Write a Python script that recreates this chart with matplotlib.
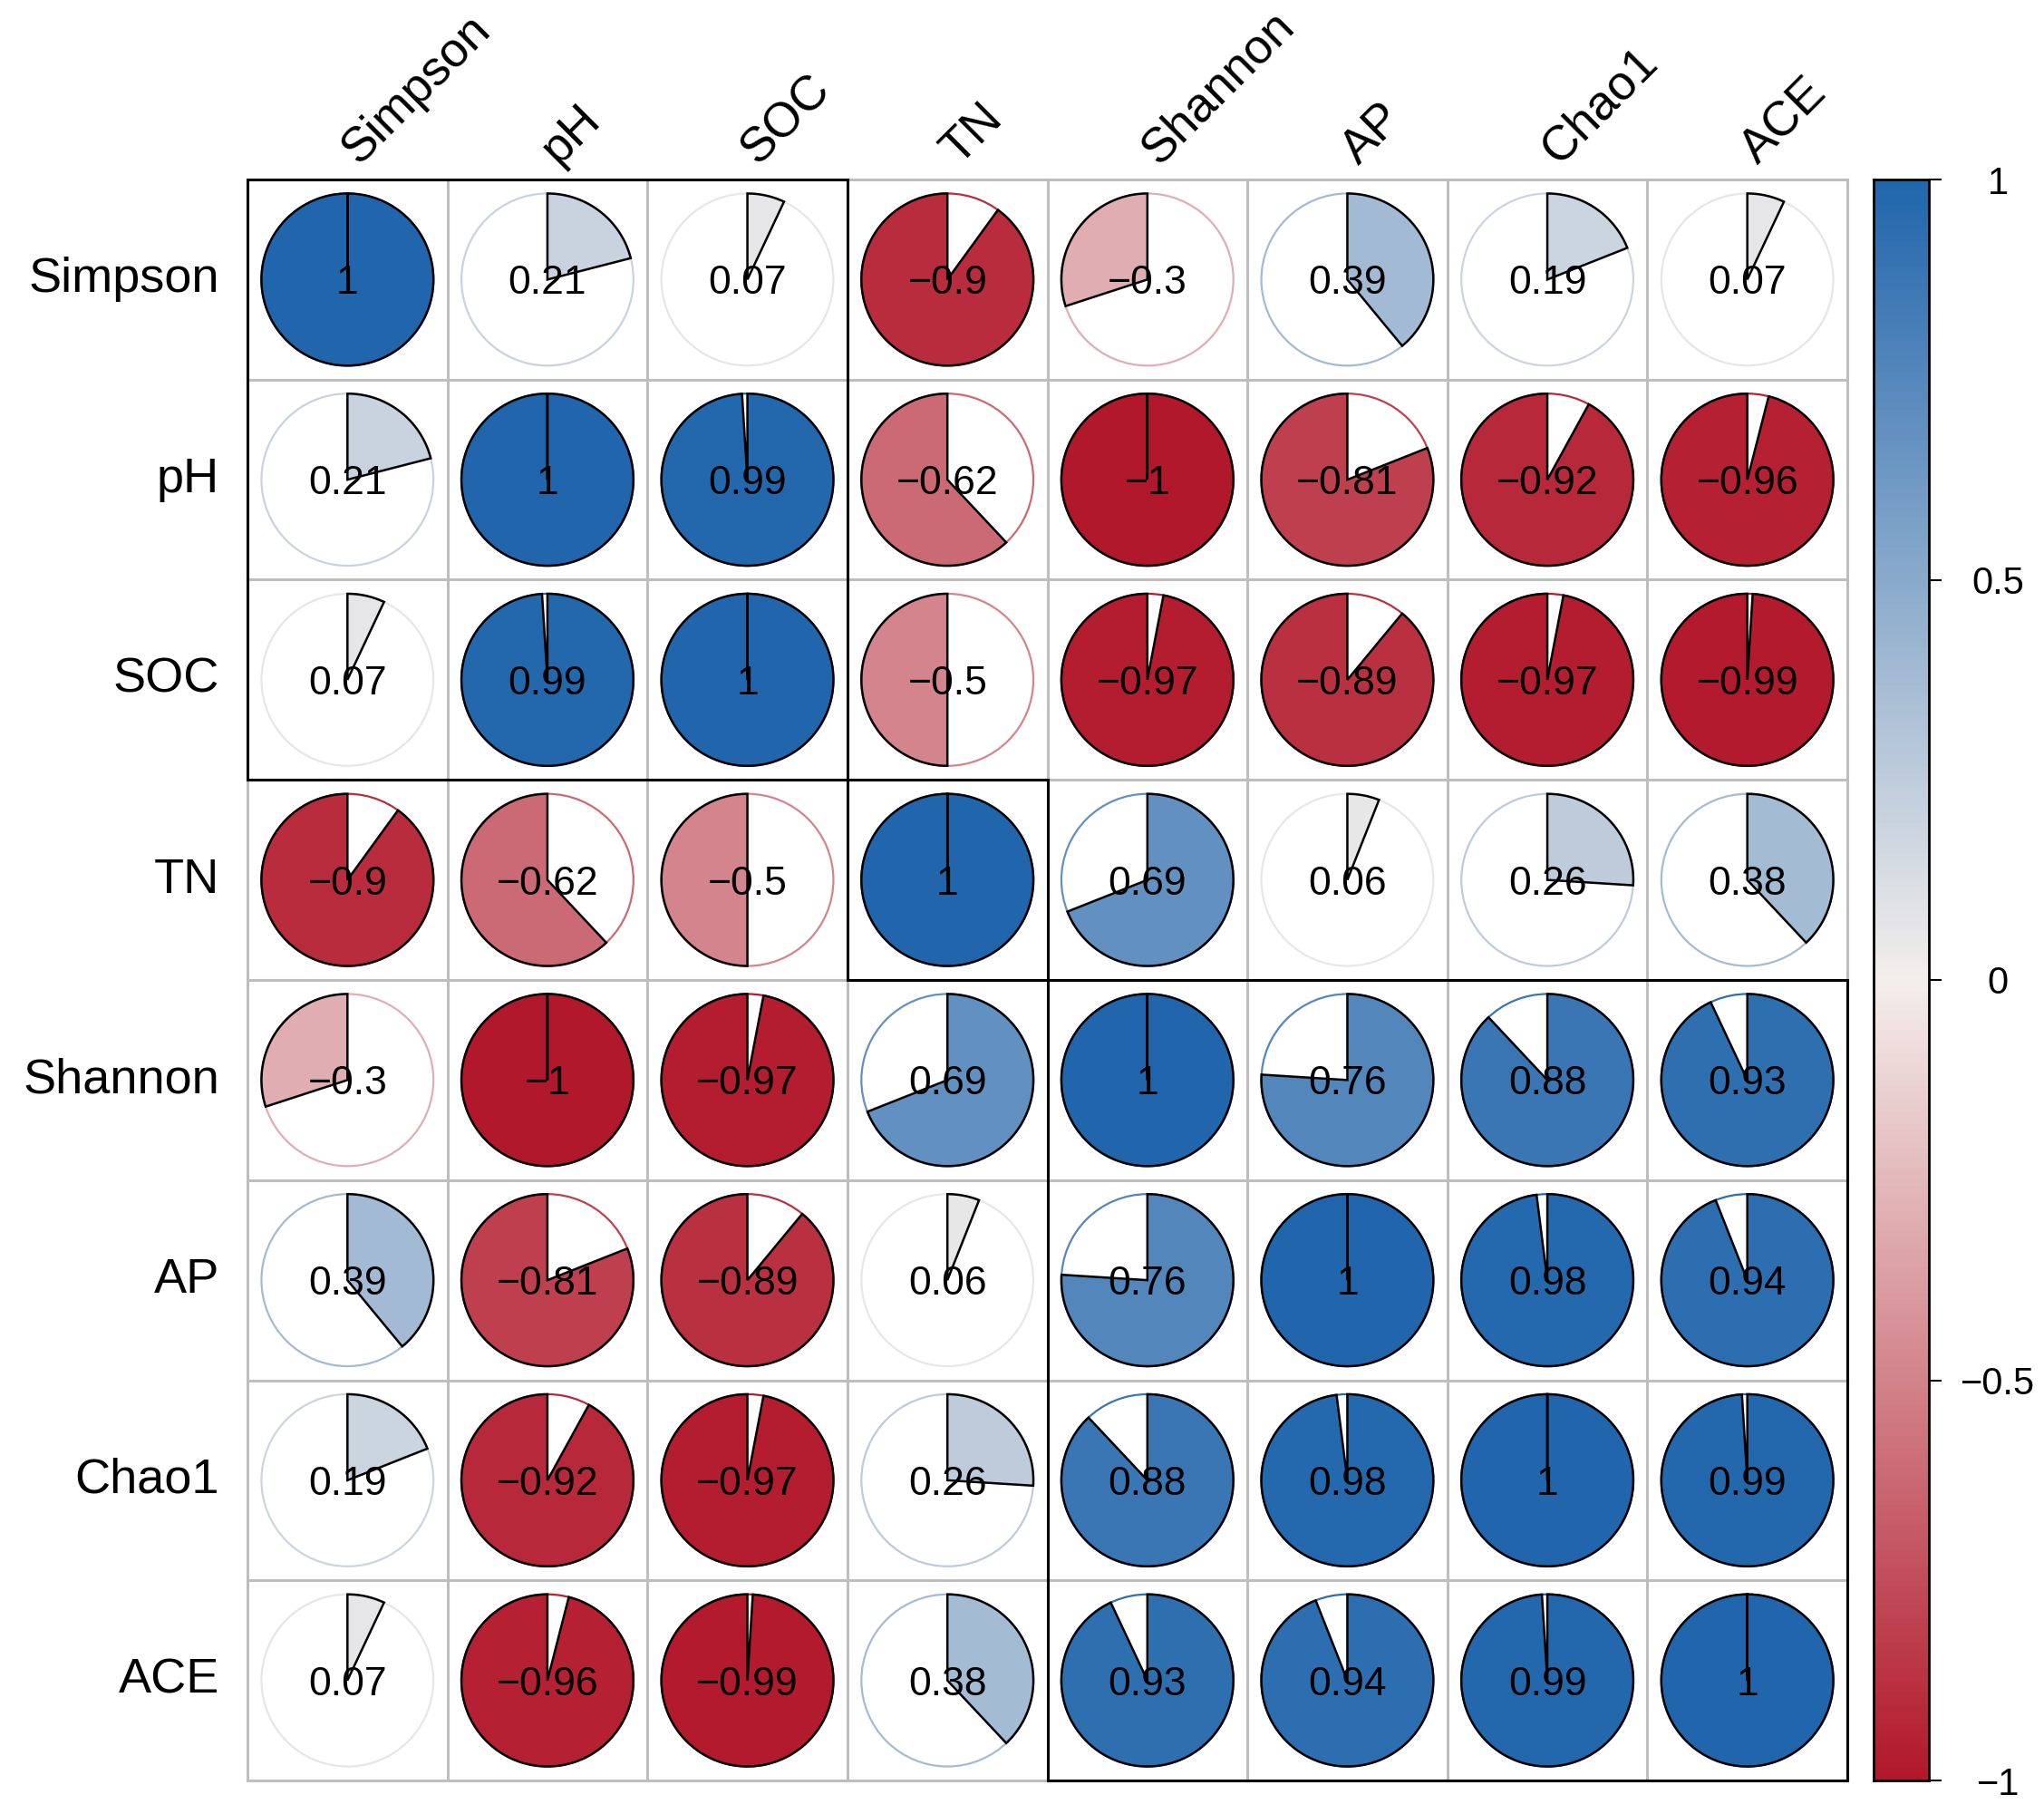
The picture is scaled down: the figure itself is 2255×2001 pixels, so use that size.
import numpy as np
import matplotlib
matplotlib.use("Agg")
import matplotlib.pyplot as plt
from matplotlib.colors import LinearSegmentedColormap
from matplotlib.patches import Circle, Polygon, Rectangle

plt.rcParams['font.family'] = ['Liberation Sans', 'DejaVu Sans']

variables = ["Simpson", "pH", "SOC", "TN", "Shannon", "AP", "Chao1", "ACE"]

row_simpson = [1, 0.21, 0.07, -0.9, -0.3, 0.39, 0.19, 0.07]
row_ph      = [0.21, 1, 0.99, -0.62, -1, -0.81, -0.92, -0.96]
row_soc     = [0.07, 0.99, 1, -0.5, -0.97, -0.89, -0.97, -0.99]
row_tn      = [-0.9, -0.62, -0.5, 1, 0.69, 0.06, 0.26, 0.38]
row_shannon = [-0.3, -1, -0.97, 0.69, 1, 0.76, 0.88, 0.93]
row_ap      = [0.39, -0.81, -0.89, 0.06, 0.76, 1, 0.98, 0.94]
row_chao1   = [0.19, -0.92, -0.97, 0.26, 0.88, 0.98, 1, 0.99]
row_ace     = [0.07, -0.96, -0.99, 0.38, 0.93, 0.94, 0.99, 1]

corr = np.array([row_simpson, row_ph, row_soc, row_tn,
                 row_shannon, row_ap, row_chao1, row_ace])

# hierarchical-cluster groups (start index, end index exclusive)
clusters = [(0, 3), (3, 4), (4, 8)]

cbar_ticks = [-1, -0.5, 0, 0.5, 1]
cbar_ticklabels = ["\u22121", "\u22120.5", "0", "0.5", "1"]

cmap = LinearSegmentedColormap.from_list(
    "rdbu", ["#B2182B", "#F4EFEC", "#2166AC"], N=256)

W, H = 2255, 2001
fig = plt.figure(figsize=(W / 100, H / 100), dpi=100)
fig.patch.set_facecolor("white")

n = len(variables)
gl, gr, gt, gb = 273, 2038, 198, 1964
ax = fig.add_axes([gl / W, (H - gb) / H, (gr - gl) / W, (gb - gt) / H])
ax.set_xlim(0, n)
ax.set_ylim(n, 0)
ax.axis("off")

# grid
for k in range(n + 1):
    ax.plot([k, k], [0, n], color="#BEBEBE", lw=2.2, clip_on=False, zorder=1)
    ax.plot([0, n], [k, k], color="#BEBEBE", lw=2.2, clip_on=False, zorder=1)

R = 0.43
for i in range(n):
    for j in range(n):
        r = corr[i, j]
        col = cmap((r + 1) / 2)
        cx, cy = j + 0.5, i + 0.5
        ax.add_patch(Circle((cx, cy), R, fill=False, edgecolor=col,
                            lw=1.6, zorder=2))
        npts = max(3, int(abs(r) * 300))
        t = np.linspace(0, 1, npts)
        theta = np.deg2rad(90 - 360 * r * t)
        xs = np.concatenate([[cx], cx + R * np.cos(theta), [cx]])
        ys = np.concatenate([[cy], cy - R * np.sin(theta), [cy]])
        ax.add_patch(Polygon(np.column_stack([xs, ys]), closed=True,
                             facecolor=col, edgecolor="black", lw=1.8,
                             joinstyle="miter", zorder=3))
        s = f"{r:.2f}".rstrip("0").rstrip(".").replace("-", "\u2212")
        ax.text(cx, cy, s, ha="center", va="center_baseline", fontsize=32,
                color="black", zorder=4)

for s0, e0 in clusters:
    ax.add_patch(Rectangle((s0, s0), e0 - s0, e0 - s0, fill=False,
                           edgecolor="black", lw=2.2, zorder=5,
                           clip_on=False))

for i, name in enumerate(variables):
    ax.text(-0.14, i + 0.5, name, ha="right", va="center", fontsize=39)
    ax.text(i + 0.5 + 0.055, -0.07, name, ha="left", va="baseline",
            rotation=45, rotation_mode="anchor", fontsize=38.5)

# colorbar
cl, cr = 2067, 2128
cax = fig.add_axes([cl / W, (H - gb) / H, (cr - cl) / W, (gb - gt) / H])
grad = np.linspace(-1, 1, 512).reshape(-1, 1)
cax.imshow(grad, aspect="auto", cmap=cmap, vmin=-1, vmax=1,
           origin="lower", extent=[0, 1, -1, 1])
cax.set_xlim(0, 1)
cax.set_ylim(-1, 1)
cax.set_xticks([])
cax.yaxis.tick_right()
cax.set_yticks(cbar_ticks)
cax.set_yticklabels(cbar_ticklabels)
cax.tick_params(axis="y", length=10, width=1.5, pad=45, labelsize=30)
for lbl in cax.get_yticklabels():
    lbl.set_horizontalalignment("center")
for sp in cax.spines.values():
    sp.set_linewidth(2)
    sp.set_color("black")

fig.savefig("out.png", dpi=100, facecolor="white")
